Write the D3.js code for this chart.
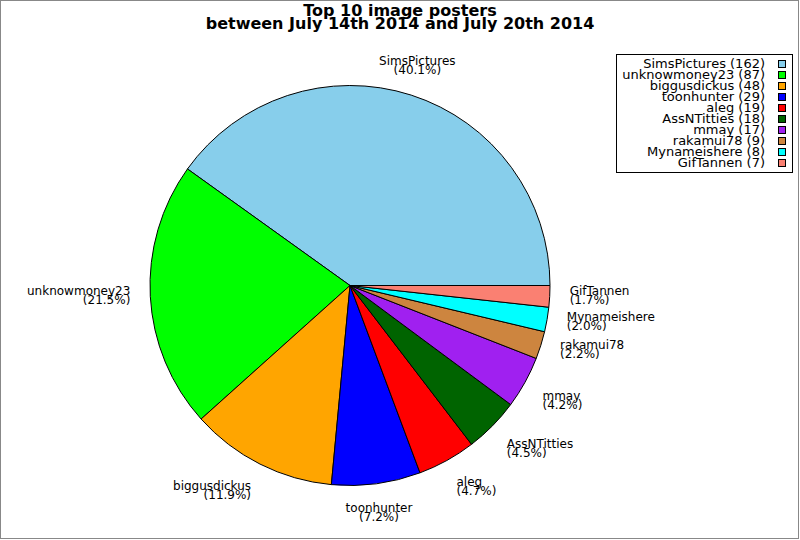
<!DOCTYPE html>
<html>
<head>
<meta charset="utf-8">
<script src="https://cdn.jsdelivr.net/npm/d3@7"></script>
<style>
  html, body { margin: 0; padding: 0; background: #fff; }
  svg { display: block; }
  text { font-family: "DejaVu Sans", sans-serif; fill: #000; }
</style>
</head>
<body>
<script>
// ---- data ----
const titleLines = ["Top 10 image posters", "between July 14th 2014 and July 20th 2014"];
const posters = ["SimsPictures", "unknowmoney23", "biggusdickus", "toonhunter", "aleg",
                 "AssNTitties", "mmay", "rakamui78", "Mynameishere", "GifTannen"];
const counts = [162, 87, 48, 29, 19, 18, 17, 9, 8, 7];
const palette = ["#87CEEB", "#00FF00", "#FFA500", "#0000FF", "#FF0000",
                 "#006400", "#A020F0", "#CD853F", "#00FFFF", "#FA8072"];

// ---- layout ----
const W = 800, H = 540;
const cx = 350, cy = 285.5, R = 200;

const svg = d3.select("body").append("svg").attr("width", W).attr("height", H);

// outer border
svg.append("rect").attr("x", 0.5).attr("y", 0.5).attr("width", W - 2).attr("height", H - 2)
  .attr("fill", "#fff").attr("stroke", "#888").attr("stroke-width", 1);

// title
const title = svg.append("text").attr("text-anchor", "middle")
  .style("font-weight", "bold").style("font-size", "16px");
titleLines.forEach((t, i) => {
  title.append("tspan").attr("x", 400).attr("y", 16 + i * 13).text(t);
});

const data = posters.map((p, i) => ({ name: p, value: counts[i] }));
const total = d3.sum(counts);

const color = d3.scaleOrdinal().domain(posters).range(palette);

const pie = d3.pie().sort(null).value(d => d.value)
  .startAngle(Math.PI / 2).endAngle(Math.PI / 2 - 2 * Math.PI);
const arcs = pie(data);
const arc = d3.arc().innerRadius(0).outerRadius(R);

const g = svg.append("g").attr("transform", `translate(${cx},${cy})`);
g.selectAll("path.slice").data(arcs).enter().append("path")
  .attr("class", "slice")
  .attr("d", arc)
  .attr("fill", d => color(d.data.name))
  .attr("stroke", "#000").attr("stroke-width", 1).attr("stroke-linejoin", "round");

// labels
const LR = R * 1.1;
const anchors = ["start", "start", "middle", "end", "end", "end", "middle", "start"];
const valigns = ["center", "bottom", "bottom", "bottom", "center", "top", "top", "top"];
g.selectAll("text.lab").data(arcs).enter().append("text")
  .attr("class", "lab").style("font-size", "12px")
  .each(function (d) {
    const a = (d.startAngle + d.endAngle) / 2;
    const x = LR * Math.sin(a), y = -LR * Math.cos(a);
    let th = Math.atan2(Math.cos(a), Math.sin(a)) * 180 / Math.PI;
    if (th < 0) th += 360;
    const oct = Math.round(th / 45) % 8;
    const va = valigns[oct];
    let b1;
    if (va === "top") b1 = y + 8;
    else if (va === "bottom") b1 = y - 11;
    else b1 = y - 2;
    const t = d3.select(this).attr("text-anchor", anchors[oct]);
    t.append("tspan").attr("x", x).attr("y", b1).text(d.data.name);
    t.append("tspan").attr("x", x).attr("y", b1 + 9)
      .text("(" + (d.data.value / total * 100).toFixed(1) + "%)");
  });

// legend
const legend = svg.append("g");
legend.append("rect").attr("x", 616.5).attr("y", 54.5).attr("width", 176).attr("height", 118)
  .attr("fill", "#fff").attr("stroke", "#000").attr("stroke-width", 1);
const rows = legend.selectAll("g.row").data(data).enter().append("g").attr("class", "row")
  .attr("transform", (d, i) => `translate(0,${68 + i * 11})`);
rows.append("text").attr("x", 765).attr("y", 0).attr("text-anchor", "end")
  .style("font-size", "13px")
  .text(d => `${d.name} (${d.value})`);
rows.append("rect").attr("x", 778.5).attr("y", -7.5).attr("width", 7).attr("height", 7)
  .attr("fill", d => color(d.name)).attr("stroke", "#000").attr("stroke-width", 1);
</script>
</body>
</html>
